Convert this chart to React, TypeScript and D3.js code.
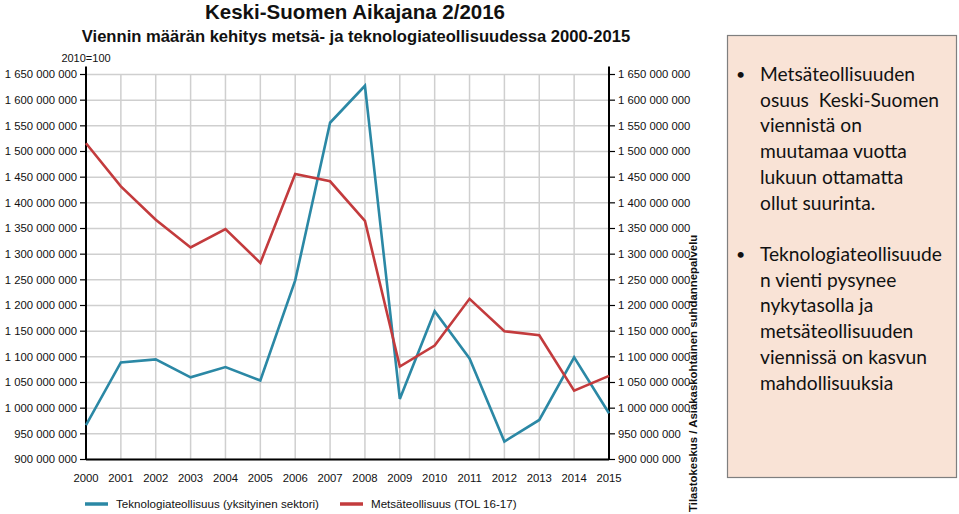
import * as d3 from 'd3';
import * as React from 'react';

const years = [2000, 2001, 2002, 2003, 2004, 2005, 2006, 2007, 2008, 2009, 2010, 2011, 2012, 2013, 2014, 2015];
const teknologia = [967, 1089, 1095, 1060, 1080, 1054, 1249, 1556, 1628, 1018, 1189, 1097, 935, 977, 1099, 990].map((v) => v * 1e6);
const metsa = [1516, 1432, 1367, 1313, 1349, 1283, 1456, 1442, 1365, 1081, 1122, 1213, 1150, 1142, 1034, 1063].map((v) => v * 1e6);
const yTicks = d3.range(900, 1651, 50).map((v) => v * 1e6);

const seriesNames = ['Teknologiateollisuus (yksityinen sektori)', 'Metsäteollisuus (TOL 16-17)'];
const seriesColors = ['#2b88a5', '#c33b3d'];

const bullets = [
  ['Metsäteollisuuden', 'osuus  Keski-Suomen', 'viennistä on', 'muutamaa vuotta', 'lukuun ottamatta', 'ollut suurinta.'],
  ['Teknologiateollisuude', 'n vienti pysynee', 'nykytasolla ja', 'metsäteollisuuden', 'viennissä on kasvun', 'mahdollisuuksia'],
];

const W = 959;
const H = 514;
const margin = { left: 86, right: 609, top: 74.5, bottom: 459.5 };

const fmt = (v: number) => d3.format(',')(v).replace(/,/g, ' ');

export default function App() {
  const x = d3.scaleLinear().domain([2000, 2015]).range([margin.left, margin.right]);
  const y = d3.scaleLinear().domain([900e6, 1650e6]).range([margin.bottom, margin.top]);
  const line = d3
    .line<number>()
    .x((_, i) => x(years[i]))
    .y((d) => y(d));
  const series = [teknologia, metsa];

  return (
    <svg
      width={W}
      height={H}
      style={{ position: 'absolute', left: 0, top: 0, background: '#fff' }}
      fontFamily="'Liberation Sans', Arial, sans-serif"
    >
      <text x={355} y={19} textAnchor="middle" fontSize={20.5} fontWeight="bold" fill="#111">
        Keski-Suomen Aikajana 2/2016
      </text>
      <text x={356} y={42} textAnchor="middle" fontSize={16.6} fontWeight="bold" fill="#111">
        Viennin määrän kehitys metsä- ja teknologiateollisuudessa 2000-2015
      </text>
      <text x={86} y={62} textAnchor="middle" fontSize={11} fill="#111">
        2010=100
      </text>

      {/* grid */}
      {years.map((yr) => (
        <line key={'v' + yr} x1={x(yr)} x2={x(yr)} y1={margin.top} y2={margin.bottom} stroke="#cfcfcf" strokeWidth={1.5} />
      ))}
      {yTicks.map((t) => (
        <line key={'h' + t} x1={margin.left} x2={margin.right} y1={y(t)} y2={y(t)} stroke="#cfcfcf" strokeWidth={1.5} />
      ))}

      {/* axes */}
      <line x1={margin.left} x2={margin.left} y1={margin.top - 8} y2={margin.bottom} stroke="#000" strokeWidth={2} />
      <line x1={margin.right} x2={margin.right} y1={margin.top - 8} y2={margin.bottom} stroke="#000" strokeWidth={2} />
      <line x1={margin.left} x2={margin.right} y1={margin.bottom} y2={margin.bottom} stroke="#000" strokeWidth={2} />
      {yTicks.map((t) => (
        <g key={'t' + t}>
          <line x1={margin.left - 6} x2={margin.left} y1={y(t)} y2={y(t)} stroke="#000" strokeWidth={1.2} />
          <line x1={margin.right} x2={margin.right + 6} y1={y(t)} y2={y(t)} stroke="#000" strokeWidth={1.2} />
          <text x={margin.left - 9} y={y(t)} dy="0.35em" textAnchor="end" fontSize={11.3} fill="#111">
            {fmt(t)}
          </text>
          <text x={margin.right + 9} y={y(t)} dy="0.35em" textAnchor="start" fontSize={11.3} fill="#111">
            {fmt(t)}
          </text>
        </g>
      ))}
      {years.map((yr) => (
        <text key={'x' + yr} x={x(yr)} y={482} textAnchor="middle" fontSize={11.3} fill="#111">
          {yr}
        </text>
      ))}

      {/* lines */}
      {series.map((s, i) => (
        <path key={i} d={line(s) ?? ''} fill="none" stroke={seriesColors[i]} strokeWidth={2.6} strokeLinejoin="miter" />
      ))}

      {/* legend */}
      {seriesNames.map((n, i) => {
        const lx = i === 0 ? 85 : 340;
        return (
          <g key={n}>
            <line x1={lx} x2={lx + 23} y1={504} y2={504} stroke={seriesColors[i]} strokeWidth={3.5} />
            <text x={lx + 31} y={508} fontSize={11.6} fill="#111">
              {n}
            </text>
          </g>
        );
      })}

      {/* source */}
      <text transform="translate(697,512) rotate(-90)" fontSize={11.4} fontWeight="bold" fill="#111">
        Tilastokeskus / Asiakaskohtainen suhdannepalvelu
      </text>

      {/* text box */}
      <rect x={727.5} y={35.5} width={229} height={442} fill="#f9e3d6" stroke="#7f7f7f" strokeWidth={1.2} />
      <g fontFamily="Lato, 'Open Sans', sans-serif" fontSize={19.2} fill="#111">
        {bullets.map((b, bi) => (
          <g key={bi}>
            <text x={736} y={80 + bi * 180} fontSize={16}>
              •
            </text>
            {b.map((l, li) => (
              <text key={li} x={760} y={81 + bi * 180 + li * 25.7} xmlSpace="preserve">
                {l}
              </text>
            ))}
          </g>
        ))}
      </g>
    </svg>
  );
}
